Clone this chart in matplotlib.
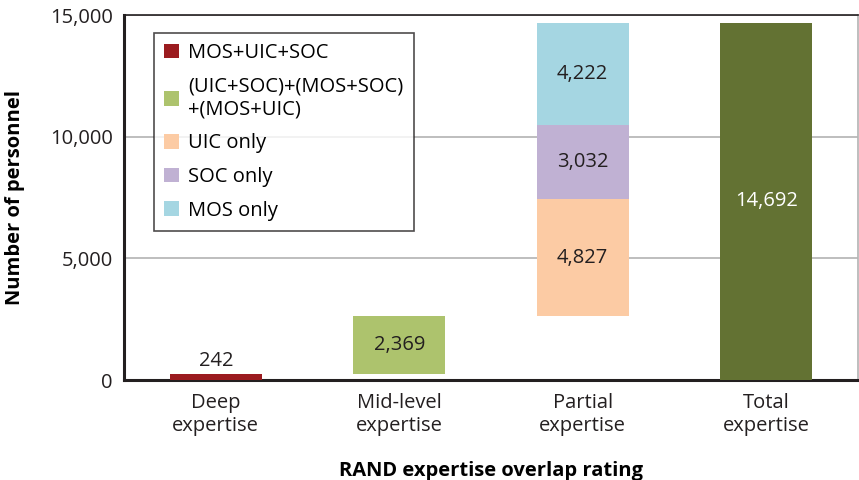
import matplotlib.pyplot as plt
from matplotlib.patches import Patch

plt.rcParams["font.family"] = ["Open Sans", "DejaVu Sans"]

# Data
categories = ["Deep\nexpertise", "Mid-level\nexpertise", "Partial\nexpertise", "Total\nexpertise"]
deep = 242
mid = 2369
partial_uic = 4827
partial_soc = 3032
partial_mos = 4222
total = 14692

series_names = ["MOS+UIC+SOC", "(UIC+SOC)+(MOS+SOC)\n+(MOS+UIC)", "UIC only", "SOC only", "MOS only"]
colors = ["#9b1b1f", "#adc36d", "#fccba4", "#c0b1d3", "#a5d6e2"]
total_color = "#637233"

fig = plt.figure(figsize=(8.59, 4.8), dpi=100)
ax = fig.add_axes([0.1444, 0.2083, 0.8544, 0.7604])

w = 0.5
ax.bar(0, deep, width=w, color=colors[0], zorder=3)
ax.bar(1, mid, bottom=deep, width=w, color=colors[1], zorder=3)
base = deep + mid
ax.bar(2, partial_uic, bottom=base, width=w, color=colors[2], zorder=3)
ax.bar(2, partial_soc, bottom=base + partial_uic, width=w, color=colors[3], zorder=3)
ax.bar(2, partial_mos, bottom=base + partial_uic + partial_soc, width=w, color=colors[4], zorder=3)
ax.bar(3, total, width=w, color=total_color, zorder=3)

fs = 14.5
ax.text(0, deep + 120, f"{deep:,}", ha="center", va="bottom", fontsize=fs, color="#231f20")
ax.text(1, deep + mid / 2, f"{mid:,}", ha="center", va="center", fontsize=fs, color="#231f20")
ax.text(2, base + partial_uic / 2, f"{partial_uic:,}", ha="center", va="center", fontsize=fs, color="#231f20")
ax.text(2, base + partial_uic + partial_soc / 2, f"{partial_soc:,}", ha="center", va="center", fontsize=fs, color="#231f20")
ax.text(2, base + partial_uic + partial_soc + partial_mos / 2, f"{partial_mos:,}", ha="center", va="center", fontsize=fs, color="#231f20")
ax.text(3, total / 2, f"{total:,}", ha="center", va="center", fontsize=fs, color="white")

ax.set_xlim(-0.5, 3.5)
ax.set_ylim(0, 15000)
ax.set_yticks([0, 5000, 10000, 15000])
ax.set_yticklabels(["0", "5,000", "10,000", "15,000"], fontsize=fs, color="#231f20")
ax.set_xticks(range(4))
ax.set_xticklabels(categories, fontsize=fs, color="#231f20", linespacing=1.2)
ax.tick_params(axis="y", length=0, pad=8)
ax.tick_params(axis="x", length=0, pad=9)
ax.yaxis.grid(True, color="#b3b3b3", linewidth=1.2, zorder=0)

for s in ["left", "bottom"]:
    ax.spines[s].set_linewidth(2.2)
    ax.spines[s].set_color("#231f20")
ax.spines["top"].set_linewidth(1.2)
ax.spines["top"].set_color("#231f20")
ax.spines["right"].set_linewidth(1.2)
ax.spines["right"].set_color("#b3b3b3")

ax.set_ylabel("Number of personnel", fontsize=fs, fontweight="bold", labelpad=18)
ax.set_xlabel("RAND expertise overlap rating", fontsize=fs, fontweight="bold", labelpad=18)

handles = [Patch(facecolor=c, edgecolor="none") for c in colors]
leg = ax.legend(handles, series_names, loc="upper left", bbox_to_anchor=(0.041, 0.951),
                fontsize=fs, frameon=True, fancybox=False, edgecolor="#231f20",
                handlelength=0.75, handleheight=0.75, handletextpad=0.45,
                labelspacing=0.68, borderpad=0.5, borderaxespad=0)
leg.get_frame().set_linewidth(1.2)
leg.set_zorder(5)

fig.savefig("out.png", dpi=100)
